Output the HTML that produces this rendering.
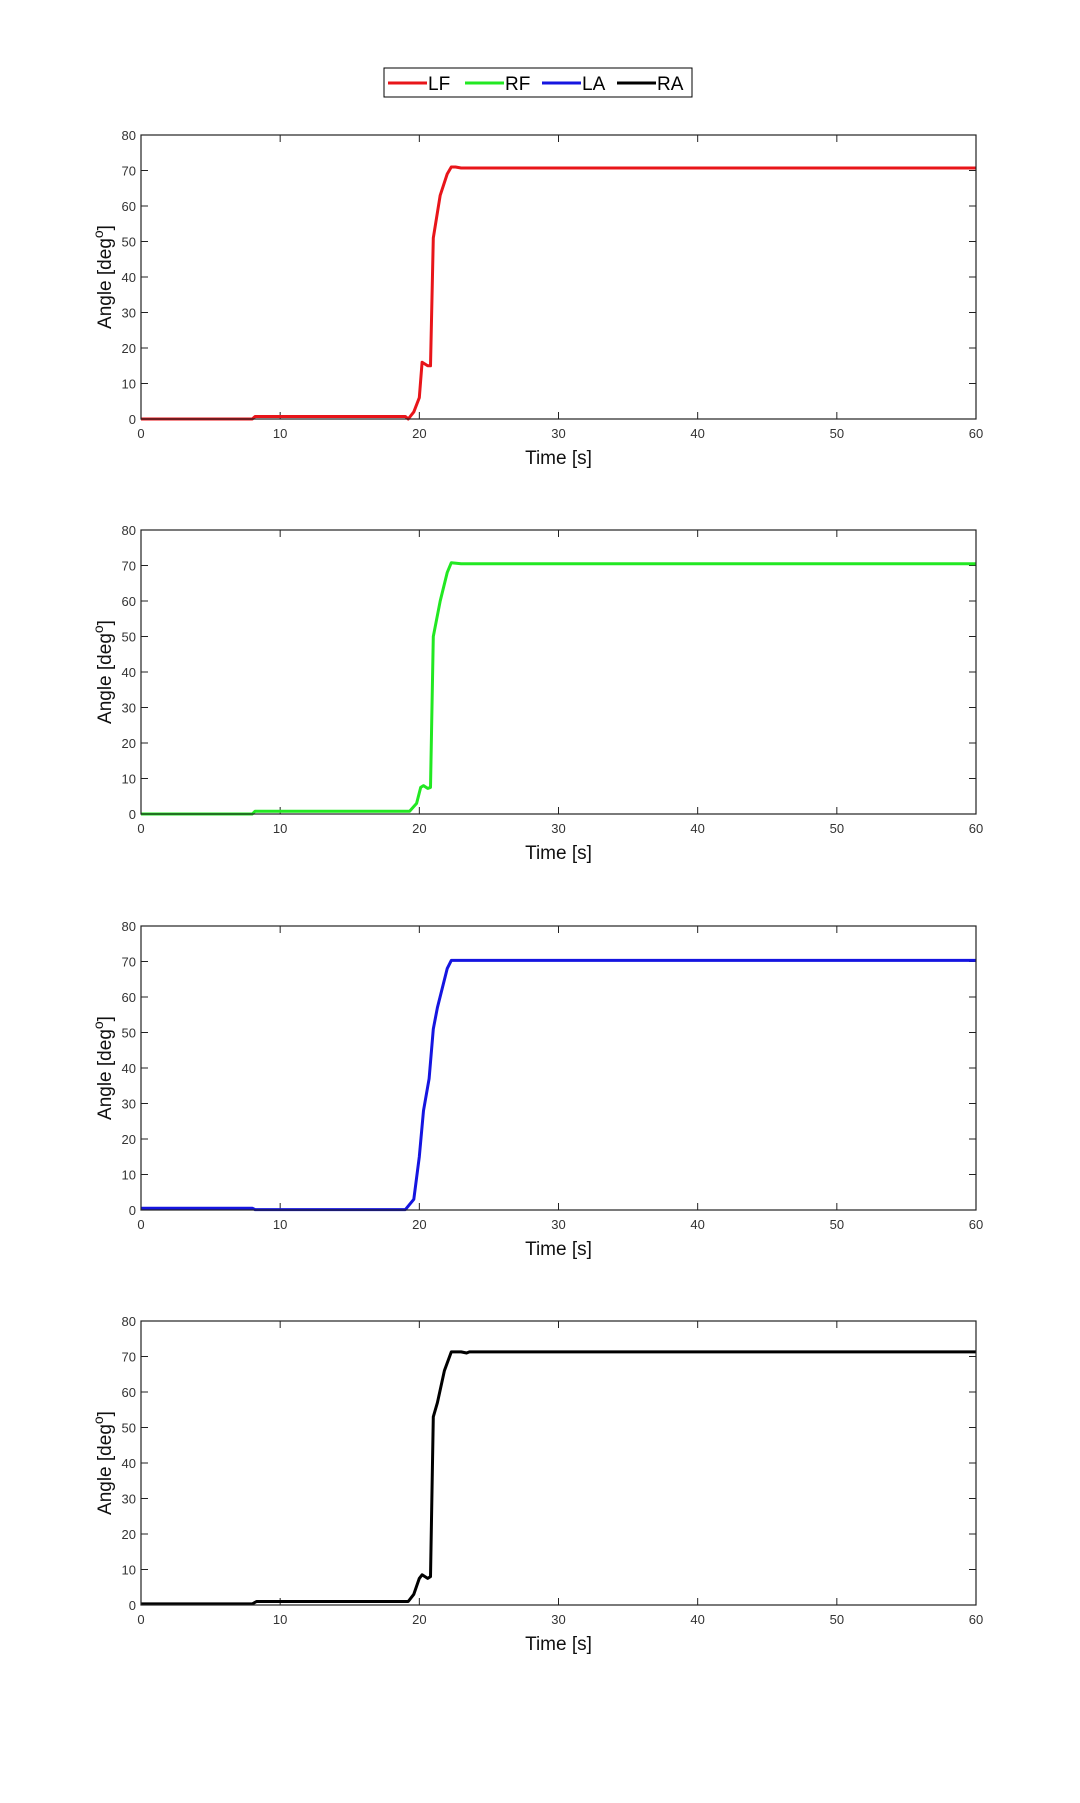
<!DOCTYPE html>
<html><head><meta charset="utf-8"><style>
body{margin:0;background:#fff;}
svg{display:block;font-family:"Liberation Sans",Arial,sans-serif;}
</style></head><body>
<svg id="chart" width="1080" height="1803" xmlns="http://www.w3.org/2000/svg">
<rect width="1080" height="1803" fill="#fff"/>
<g>
<rect x="384" y="68" width="308" height="29" fill="#fff" stroke="#000" stroke-width="1"/>
<g><line x1="388" y1="83" x2="427" y2="83" stroke="#e8151a" stroke-width="3"/><text x="428" y="90" font-size="19">LF</text></g>
<g><line x1="465" y1="83" x2="504" y2="83" stroke="#22e822" stroke-width="3"/><text x="505" y="90" font-size="19">RF</text></g>
<g><line x1="542" y1="83" x2="581" y2="83" stroke="#1515e0" stroke-width="3"/><text x="582" y="90" font-size="19">LA</text></g>
<g><line x1="617" y1="83" x2="656" y2="83" stroke="#000" stroke-width="3"/><text x="657" y="90" font-size="19">RA</text></g>
</g>
</svg>
<script>
const xTicks = [0,10,20,30,40,50,60];
const yTicks = [0,10,20,30,40,50,60,70,80];
const seriesNames = ['LF','RF','LA','RA'];
const seriesColors = ['#e8151a','#22e822','#1515e0','#000000'];
const lfT = [0,8,8.2,19,19.2,19.6,20,20.2,20.6,20.8,21,21.5,22,22.3,22.6,23,60];
const lfV = [0,0,0.7,0.7,0,2,6,16,15,15,51,63,69,71,71,70.7,70.7];
const rfT = [0,8,8.2,19.3,19.8,20.1,20.3,20.6,20.8,21,21.5,22,22.3,23,60];
const rfV = [0,0,0.8,0.8,3,7.5,8,7.2,7.5,50,60,68,70.8,70.5,70.5];
const laT = [0,8,8.2,19,19.6,20,20.3,20.7,21,21.3,22,22.3,60];
const laV = [0.5,0.5,0.1,0.1,3,15,28,37,51,57,68,70.3,70.3];
const raT = [0,8,8.3,19.2,19.6,20,20.2,20.6,20.8,21,21.3,21.8,22.3,23,23.4,23.6,60];
const raV = [0.3,0.3,1,1,3,7.5,8.5,7.5,8,53,57,66,71.3,71.3,71,71.3,71.3];
const allT = [lfT,rfT,laT,raT];
const allV = [lfV,rfV,laV,raV];

const NS='http://www.w3.org/2000/svg';
const svg=document.getElementById('chart');
const L=141,R=976,H=284,tops=[135,530,926,1321];
function mk(tag,attrs,parent){const e=document.createElementNS(NS,tag);for(const k in attrs)e.setAttribute(k,attrs[k]);parent.appendChild(e);return e;}
for(let p=0;p<4;p++){
  const top=tops[p],bot=top+H;
  const xs=t=>L+(t-0)/(60-0)*(R-L);
  const ys=v=>bot-v/80*H;
  const g=mk('g',{},svg);
  
  
  for(const t of xTicks){
    const x=xs(t);
    mk('line',{x1:x,y1:bot,x2:x,y2:bot-7,stroke:'#222','stroke-width':1},g);
    mk('line',{x1:x,y1:top,x2:x,y2:top+7,stroke:'#222','stroke-width':1},g);
    const tx=mk('text',{x:x,y:bot+19,'font-size':13,'text-anchor':'middle',fill:'#333'},g);
    tx.textContent=t;
    
    
  }
  for(const v of yTicks){
    const y=ys(v);
    mk('line',{x1:L,y1:y,x2:L+7,y2:y,stroke:'#222','stroke-width':1},g);
    mk('line',{x1:R,y1:y,x2:R-7,y2:y,stroke:'#222','stroke-width':1},g);
    const tx=mk('text',{x:L-5,y:y+5,'font-size':13,'text-anchor':'end',fill:'#333'},g);
    tx.textContent=v;
    
    
  }
  const T=allT[p],V=allV[p];
  let d='';
  for(let i=0;i<T.length;i++)d+=(i?'L':'M')+xs(T[i]).toFixed(1)+' '+ys(V[i]).toFixed(1);
  const path=mk('path',{d:d,fill:'none',stroke:seriesColors[p],'stroke-width':3,'stroke-linejoin':'round'},g);
  
  
  mk('rect',{x:L,y:top,width:R-L,height:H,fill:'none',stroke:'#222','stroke-width':1.2},g);
  const xt=mk('text',{x:(L+R)/2,y:bot+45,'font-size':19,'text-anchor':'middle',fill:'#111'},g);
  xt.textContent='Time [s]';
  
  
  const yt=mk('text',{x:0,y:0,'font-size':19,'text-anchor':'middle',fill:'#111',transform:'translate(111,'+(top+H/2)+') rotate(-90)'},g);
  yt.innerHTML='Angle [deg<tspan dy="-8" font-size="14">o</tspan><tspan dy="8">]</tspan>';
  
  
}
</script>
</body></html>
